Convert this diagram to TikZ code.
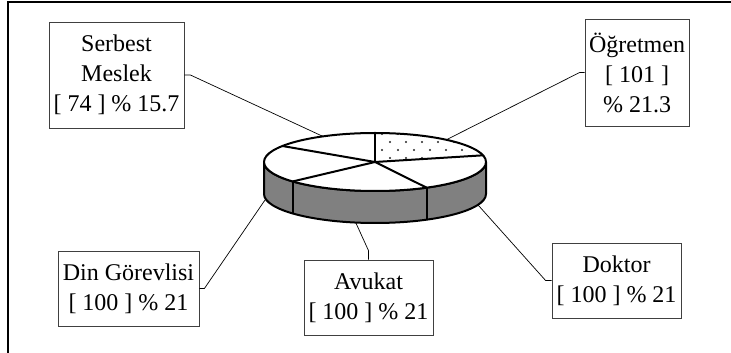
\documentclass[tikz,border=0pt]{standalone}
\usepackage{fontspec}
\setmainfont{Liberation Serif}
\begin{document}
\begin{tikzpicture}[x=1pt,y=1pt,
  lbl/.style={draw=black!75, line width=0.8pt, fill=white, align=center,
    font=\fontsize{24}{30}\selectfont, inner sep=0pt},
  conn/.style={draw=black, line width=0.7pt},
  pieline/.style={line width=2pt, line join=round}]
\useasboundingbox (0,0) rectangle (731,353);
% frame
\draw[line width=1.2pt] (8,0) -- (8,351) -- (731,351);
% pie reference points
\coordinate (C) at (375,191);
\coordinate (B) at (375,159);
\path (C) ++(118:111 and 29) coordinate (pS);
\path (C) ++(50:111 and 29) coordinate (pO);
\path (B) ++(190:111 and 29) coordinate (pD);
\path (B) ++(260:111 and 29) coordinate (pA);
\path (B) ++(-22:111 and 29) coordinate (pK);
% boxes
\node[lbl, minimum width=135, minimum height=106] (serbest) at (116.5,278) {Serbest\\Meslek\\{[} 74 {]} \% 15.7};
\node[lbl, minimum width=104, minimum height=107] (ogr) at (637,280.5) {Öğretmen\\{[} 101 {]}\\\% 21.3};
\node[lbl, minimum width=141, minimum height=75] (din) at (128.5,64.5) {Din Görevlisi\\{[} 100 {]} \% 21};
\node[lbl, minimum width=129, minimum height=75] (avu) at (368.5,55.5) {Avukat\\{[} 100 {]} \% 21};
\node[lbl, minimum width=129, minimum height=75] (dok) at (616.5,72.5) {Doktor\\{[} 100 {]} \% 21};
% connectors
\draw[conn] (serbest.east) -- ++(6,0) -- (pS);
\draw[conn] (ogr.west) -- ++(-5,0) -- (pO);
\draw[conn] (din.east) -- ++(5,0) -- (pD);
\draw[conn] (avu.north) -- ++(0,9) -- (pA);
\draw[conn] (dok.west) -- ++(-6,0) -- (pK);
% pie side
\path[fill=black!50, draw, pieline] (264,191) -- (264,159)
  arc[start angle=180, end angle=360, x radius=111, y radius=29]
  -- (486,191)
  arc[start angle=0, end angle=-180, x radius=111, y radius=29] -- cycle;
\foreach \a in {-62.28,-137.88}
  \draw[pieline] (C) ++(\a:111 and 29) -- ++(0,-32);
% top face
\fill[white] (C) ellipse [x radius=111, y radius=29];
\begin{scope}
  \clip (C) -- (375,220) arc[start angle=90, end angle=13.32, x radius=111, y radius=29] -- cycle;
  \foreach \yy/\xo in {219/382, 211/390, 203/382, 195/390, 187/382}
    \foreach \k in {0,...,7}
      \fill[black!85] (\xo+16*\k, \yy) circle (1.1);
\end{scope}
\foreach \a in {90,13.32,-62.28,-137.88,146.52}
  \draw[pieline] (C) -- ++(\a:111 and 29);
\draw[pieline] (C) ellipse [x radius=111, y radius=29];
\end{tikzpicture}
\end{document}
